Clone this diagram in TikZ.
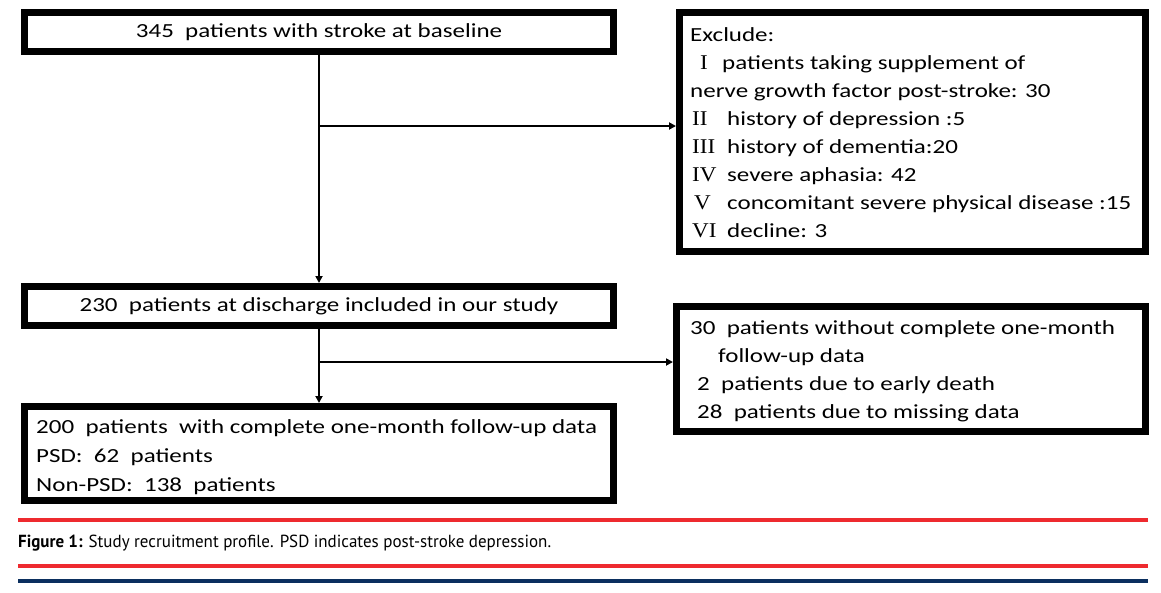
\documentclass[tikz,border=0pt]{standalone}
\usepackage{fontspec}
\setmainfont{Carlito}[FakeStretch=1.25]
\newfontfamily\romfont{Liberation Serif}[FakeStretch=1.1]
\newfontfamily\capfont[FakeStretch=0.97]{PT Sans}
\usetikzlibrary{arrows.meta,calc}
\definecolor{capred}{HTML}{EE2A2F}
\definecolor{capnavy}{HTML}{0B2F5F}
\begin{document}
\begin{tikzpicture}[x=1pt,y=-1pt,
  box/.style={draw,line width=7pt,rectangle,inner sep=0pt,fill=white},
  txt/.style={anchor=base west,inner sep=0pt,font=\fontsize{20}{24}\selectfont},
  rom/.style={anchor=base west,inner sep=0pt,font=\romfont\fontsize{21}{24}\selectfont},
  conn/.style={line width=1.8pt,-{Triangle[length=7pt,width=7pt]}},
  rule/.style={line width=4pt}]
\useasboundingbox (0,0) rectangle (1161,592);
% boxes
\node[box,minimum width=589pt,minimum height=39pt,font=\fontsize{20}{24}\selectfont] (b1) at (319,32) {345\ \ patients with stroke at baseline};
\node[box,minimum width=589pt,minimum height=39pt,font=\fontsize{20}{24}\selectfont] (b2) at (319,306) {230\ \ patients at discharge included in our study};
\node[box,minimum width=589pt,minimum height=94pt] (b3) at (319,453.5) {};
\node[box,minimum width=466pt,minimum height=239pt] (e1) at (912.5,132) {};
\node[box,minimum width=469pt,minimum height=125pt] (e2) at (911,369) {};
% connectors
\coordinate (j1) at (319,126);
\coordinate (j2) at (319,362);
\draw[conn] (b1.south) -- (b2.north);
\draw[conn] (b2.south) -- (b3.north);
\draw[conn] (j1) -- (e1.west |- j1);
\draw[conn] (j2) -- (e2.west |- j2);
% box 3 text
\node[txt] (t31) at (36,433) {200\ \ patients\ \ with complete one-month follow-up data};
\node[txt] (t32) at (36,462) {PSD:\ \ 62\ \ patients};
\node[txt] (t33) at (36,491) {Non-PSD:\ \ 138\ \ patients};
% exclude text
\node[txt] (x0) at (690,41) {Exclude:};
\node[rom] (r1) at (700,69) {I};
\node[txt] (x1) at (722,69) {patients taking supplement of};
\node[txt] (x1b) at (690,97) {nerve growth factor post-stroke: 30};
\node[rom] (r2) at (692,125) {II};
\node[txt] (x2) at (727,125) {history of depression :5};
\node[rom] (r3) at (692,153) {III};
\node[txt] (x3) at (727,153) {history of dementia:20};
\node[rom] (r4) at (692,181) {IV};
\node[txt] (x4) at (727,181) {severe aphasia: 42};
\node[rom] (r5) at (694,209) {V};
\node[txt] (x5) at (727,209) {concomitant severe physical disease :15};
\node[rom] (r6) at (692,237) {VI};
\node[txt] (x6) at (727,237) {decline: 3};
% second exclude text
\node[txt] (y1) at (690,334) {30\ \ patients without complete one-month};
\node[txt] (y1b) at (718,362) {follow-up data};
\node[txt] (y2) at (697,390) {2\ \ patients due to early death};
\node[txt] (y3) at (697,418) {28\ \ patients due to missing data};
% caption rules
\draw[rule,capred] (18,520) -- (1148,520);
\draw[rule,capred] (18,566) -- (1148,566);
\draw[rule,capnavy] (18,581) -- (1148,581);
\node[anchor=base west,inner sep=0pt,font=\capfont\fontsize{17.5}{20}\selectfont] (cap) at (18,547) {\textbf{Figure 1:} Study recruitment profile. PSD indicates post-stroke depression.};
\end{tikzpicture}
\end{document}
